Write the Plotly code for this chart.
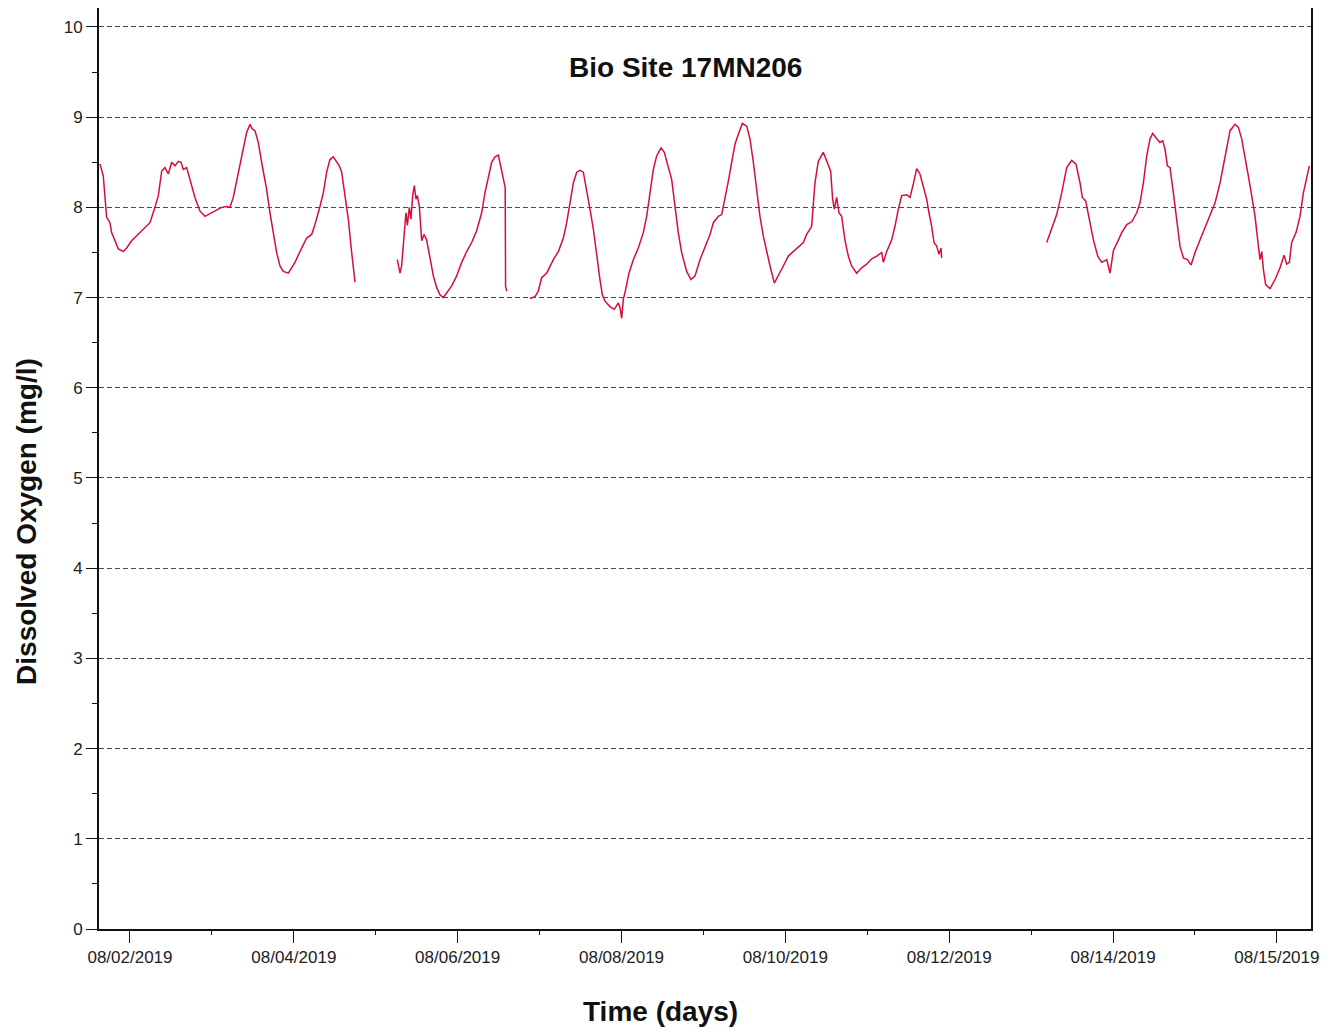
import pandas as pd
import plotly.graph_objects as go

# Logger record: dissolved oxygen (mg/l), time given as days after 08/02/2019 00:00.
# The record has gaps, so it is stored as separate continuous runs.
run1_days = [-0.366, -0.326, -0.285, -0.244, -0.224, -0.183, -0.142, -0.081, -0.041, 0.020,
             0.102, 0.183, 0.244, 0.305, 0.346, 0.387, 0.427, 0.468, 0.509, 0.549,
             0.590, 0.623, 0.651, 0.692, 0.732, 0.793, 0.854, 0.916, 0.977, 1.038,
             1.119, 1.180, 1.221, 1.261, 1.322, 1.383, 1.424, 1.465, 1.493, 1.526,
             1.566, 1.607, 1.668, 1.709, 1.750, 1.790, 1.831, 1.872, 1.933, 1.974,
             2.014, 2.075, 2.116, 2.157, 2.218, 2.258, 2.319, 2.360, 2.401, 2.441,
             2.482, 2.523, 2.555, 2.584, 2.624, 2.665, 2.706, 2.747]
run1_do = [8.48, 8.35, 7.89, 7.83, 7.72, 7.63, 7.54, 7.51, 7.55, 7.63,
           7.70, 7.77, 7.83, 8.00, 8.13, 8.40, 8.44, 8.37, 8.50, 8.46,
           8.51, 8.50, 8.42, 8.44, 8.31, 8.11, 7.96, 7.90, 7.93, 7.96,
           8.00, 8.01, 8.00, 8.11, 8.39, 8.63, 8.83, 8.92, 8.87, 8.85,
           8.72, 8.50, 8.20, 7.94, 7.72, 7.50, 7.35, 7.29, 7.27, 7.33,
           7.39, 7.51, 7.59, 7.66, 7.70, 7.81, 8.01, 8.16, 8.39, 8.53,
           8.56, 8.50, 8.46, 8.39, 8.13, 7.87, 7.50, 7.17]

run2_days = [3.263, 3.296, 3.316, 3.345, 3.369, 3.386, 3.410, 3.430, 3.451, 3.471,
             3.491, 3.508, 3.532, 3.561, 3.589, 3.621, 3.662, 3.703, 3.744, 3.784,
             3.825, 3.866, 3.927, 3.988, 4.049, 4.110, 4.171, 4.232, 4.293, 4.333,
             4.374, 4.415, 4.456, 4.496, 4.529, 4.560, 4.580, 4.585, 4.600]
run2_do = [7.42, 7.27, 7.35, 7.64, 7.94, 7.80, 8.00, 7.87, 8.13, 8.24,
           8.09, 8.13, 8.01, 7.63, 7.70, 7.64, 7.42, 7.24, 7.11, 7.03,
           7.00, 7.05, 7.13, 7.24, 7.39, 7.51, 7.61, 7.74, 7.94, 8.16,
           8.35, 8.50, 8.56, 8.58, 8.44, 8.30, 8.22, 7.12, 7.07]

run3_days = [4.883, 4.944, 4.984, 5.025, 5.086, 5.127, 5.168, 5.229, 5.290, 5.331,
             5.371, 5.412, 5.453, 5.493, 5.534, 5.575, 5.615, 5.656, 5.697, 5.737,
             5.766, 5.798, 5.859, 5.912, 5.961, 5.981, 6.002, 6.022, 6.051, 6.091,
             6.144, 6.205, 6.266, 6.307, 6.348, 6.388, 6.429, 6.482, 6.522, 6.571,
             6.612, 6.653, 6.693, 6.734, 6.795, 6.848, 6.897, 6.958, 7.019, 7.080,
             7.121, 7.182, 7.223, 7.263, 7.304, 7.345, 7.385, 7.426, 7.475, 7.528,
             7.568, 7.609, 7.650, 7.690, 7.731, 7.772, 7.813, 7.865, 7.914, 7.975,
             8.036, 8.097, 8.158, 8.219, 8.260, 8.321, 8.361, 8.402, 8.463, 8.512,
             8.553, 8.577, 8.597, 8.626, 8.654, 8.687, 8.727, 8.768, 8.809, 8.870,
             8.931, 8.992, 9.054, 9.115, 9.176, 9.196, 9.237, 9.298, 9.338, 9.379,
             9.420, 9.481, 9.521, 9.562, 9.603, 9.643, 9.684, 9.725, 9.753, 9.786,
             9.814, 9.847, 9.875, 9.900, 9.908]
run3_do = [6.99, 7.01, 7.07, 7.22, 7.27, 7.35, 7.42, 7.51, 7.66, 7.83,
           8.05, 8.27, 8.39, 8.41, 8.39, 8.20, 7.98, 7.76, 7.46, 7.20,
           7.03, 6.96, 6.90, 6.87, 6.94, 6.89, 6.77, 6.98, 7.09, 7.27,
           7.42, 7.55, 7.72, 7.90, 8.16, 8.42, 8.57, 8.66, 8.61, 8.44,
           8.31, 8.01, 7.72, 7.50, 7.29, 7.20, 7.24, 7.42, 7.57, 7.70,
           7.83, 7.90, 7.92, 8.09, 8.29, 8.50, 8.70, 8.81, 8.93, 8.90,
           8.76, 8.50, 8.16, 7.90, 7.68, 7.50, 7.35, 7.16, 7.24, 7.35,
           7.46, 7.51, 7.57, 7.61, 7.70, 7.79, 8.27, 8.51, 8.61, 8.50,
           8.40, 8.09, 7.98, 8.11, 7.94, 7.90, 7.64, 7.46, 7.35, 7.27,
           7.33, 7.37, 7.43, 7.46, 7.50, 7.39, 7.51, 7.64, 7.79, 7.98,
           8.13, 8.14, 8.11, 8.26, 8.43, 8.37, 8.24, 8.09, 7.94, 7.79,
           7.61, 7.57, 7.48, 7.55, 7.44]

run4_days = [11.190, 11.251, 11.312, 11.373, 11.434, 11.495, 11.548, 11.597, 11.625, 11.666,
             11.707, 11.760, 11.813, 11.862, 11.923, 11.963, 12.004, 12.045, 12.106, 12.167,
             12.228, 12.289, 12.329, 12.370, 12.411, 12.451, 12.484, 12.533, 12.573, 12.606,
             12.635, 12.663, 12.695, 12.736, 12.777, 12.817, 12.858, 12.907, 12.952, 13.001,
             13.062, 13.123, 13.184, 13.245, 13.306, 13.367, 13.428, 13.489, 13.529, 13.570,
             13.611, 13.651, 13.692, 13.733, 13.774, 13.794, 13.815, 13.835, 13.863, 13.916,
             13.977, 14.038, 14.087, 14.119, 14.152, 14.180, 14.233, 14.282, 14.323, 14.363,
             14.396]
run4_do = [7.61, 7.76, 7.92, 8.16, 8.44, 8.52, 8.48, 8.27, 8.11, 8.07,
           7.87, 7.64, 7.46, 7.39, 7.42, 7.27, 7.52, 7.60, 7.72, 7.81,
           7.84, 7.94, 8.05, 8.27, 8.57, 8.76, 8.82, 8.76, 8.72, 8.74,
           8.64, 8.46, 8.44, 8.16, 7.87, 7.57, 7.44, 7.42, 7.36, 7.50,
           7.64, 7.77, 7.90, 8.05, 8.27, 8.57, 8.85, 8.92, 8.89, 8.76,
           8.57, 8.35, 8.13, 7.90, 7.57, 7.42, 7.51, 7.31, 7.14, 7.10,
           7.20, 7.33, 7.47, 7.37, 7.39, 7.61, 7.72, 7.90, 8.16, 8.31,
           8.46]

# Date axis labels (every second day from the start date)
tick_days = [0, 2, 4, 6, 8, 10, 12, 14]
tick_labels = ["08/02/2019", "08/04/2019", "08/06/2019", "08/08/2019",
               "08/10/2019", "08/12/2019", "08/14/2019", "08/15/2019"]
minor_tick_days = [1, 3, 5, 7, 9, 11, 13]

start = pd.Timestamp("2019-08-02 00:00")


def to_time(days):
    return [start + pd.to_timedelta(d, unit="D") for d in days]


runs = [(run1_days, run1_do), (run2_days, run2_do),
        (run3_days, run3_do), (run4_days, run4_do)]

fig = go.Figure()
for days, do in runs:
    fig.add_trace(go.Scatter(
        x=to_time(days), y=do, mode="lines",
        line=dict(color="#d40f3a", width=1.5),
        showlegend=False, hoverinfo="x+y",
    ))

font_family = "Liberation Sans, Arial, sans-serif"

fig.update_layout(
    width=1334, height=1031,
    margin=dict(l=99, r=23, t=8, b=102),
    paper_bgcolor="white", plot_bgcolor="white",
    font=dict(family=font_family, color="#222222"),
    showlegend=False,
)

fig.update_xaxes(
    range=[start + pd.to_timedelta(-0.378, unit="D"),
           start + pd.to_timedelta(14.416, unit="D")],
    tickmode="array",
    tickvals=to_time(tick_days),
    ticktext=tick_labels,
    tickfont=dict(size=17, color="#222222"),
    ticks="outside", ticklen=12, tickwidth=1.3, tickcolor="#111111",
    minor=dict(tickmode="array", tickvals=to_time(minor_tick_days),
               ticks="outside", ticklen=4, tickwidth=1.3, tickcolor="#111111"),
    showline=True, linecolor="#111111", linewidth=2,
    showgrid=False, zeroline=False, mirror=False,
)

fig.update_yaxes(
    range=[0, 10.21],
    tickmode="linear", tick0=0, dtick=1,
    tickfont=dict(size=17, color="#222222"),
    ticks="outside", ticklen=11, tickwidth=1.3, tickcolor="#111111",
    minor=dict(tickmode="linear", tick0=0, dtick=0.5,
               ticks="outside", ticklen=5, tickwidth=1.3, tickcolor="#111111"),
    showline=True, linecolor="#111111", linewidth=2, mirror=True,
    showgrid=True, gridcolor="#4a4a4a", gridwidth=1.2, griddash="5px,3px",
    zeroline=False,
)

# Chart title and axis titles
fig.add_annotation(text="<b>Bio Site 17MN206</b>", xref="paper", yref="paper",
                   x=0.4835, y=0.935, xanchor="center", yanchor="middle",
                   showarrow=False, font=dict(size=28, color="#111111", family=font_family))
fig.add_annotation(text="<b>Time (days)</b>", xref="paper", yref="paper",
                   x=0.463, y=-0.090, xanchor="center", yanchor="middle",
                   showarrow=False, font=dict(size=28, color="#111111", family=font_family))
fig.add_annotation(text="<b>Dissolved Oxygen (mg/l)</b>", xref="paper", yref="paper",
                   x=-0.0594, y=0.442, xanchor="center", yanchor="middle", textangle=-90,
                   showarrow=False, font=dict(size=28, color="#111111", family=font_family))

fig.write_html("out.html")
